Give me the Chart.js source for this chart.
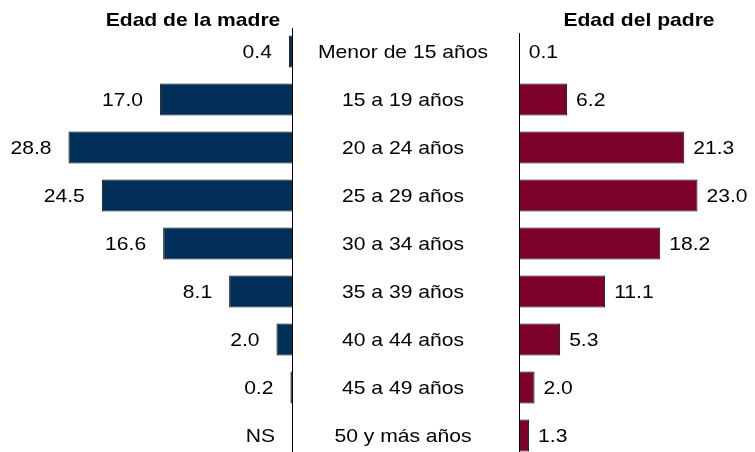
<!DOCTYPE html>
<html><head><meta charset="utf-8">
<script src="https://cdn.jsdelivr.net/npm/chart.js@4"></script>
<style>
html,body{margin:0;padding:0;overflow:hidden;background:#fff;width:755px;height:452px}
canvas{position:absolute;left:0;top:0}
</style></head><body>
<canvas id="madre" width="755" height="470"></canvas>
<canvas id="padre" width="755" height="470"></canvas>
<script>
const categories = ['Menor de 15 años','15 a 19 años','20 a 24 años','25 a 29 años','30 a 34 años','35 a 39 años','40 a 44 años','45 a 49 años','50 y más años'];
const madreValues = [0.4, 17.0, 28.8, 24.5, 16.6, 8.1, 2.0, 0.2, null];
const padreValues = [0.1, 6.2, 21.3, 23.0, 18.2, 11.1, 5.3, 2.0, 1.3];
const seriesTitles = ['Edad de la madre', 'Edad del padre'];
const missingLabel = 'NS';

const FONT = '"Liberation Sans", Arial, sans-serif';
const SX = 1.11; // horizontal text stretch as in the reference
const fmt = v => (v === null || v === undefined) ? missingLabel : v.toFixed(1);

function txt(ctx, s, x, y, align) {
  ctx.save();
  ctx.translate(x, y);
  ctx.scale(SX, 1);
  ctx.textAlign = align;
  ctx.fillText(s, 0, 0);
  ctx.restore();
}

function overlay(side) {
  return {
    id: 'overlay_' + side,
    afterDatasetsDraw(chart) {
      const ctx = chart.ctx, xs = chart.scales.x, ys = chart.scales.y;
      const vals = side === 'left' ? madreValues : padreValues;
      const x0 = xs.getPixelForValue(0);
      ctx.save();
      ctx.strokeStyle = '#000';
      ctx.lineWidth = 1;
      ctx.beginPath();
      ctx.moveTo(Math.round(x0) + 0.5, side === 'left' ? 28 : 33);
      ctx.lineTo(Math.round(x0) + 0.5, chart.height);
      ctx.stroke();
      ctx.fillStyle = '#000';
      ctx.font = '19px ' + FONT;
      ctx.textBaseline = 'middle';
      vals.forEach((v, i) => {
        const y = ys.getPixelForValue(i) + 1.5;
        const xe = xs.getPixelForValue(v === null ? 0 : v);
        if (side === 'left') txt(ctx, fmt(v), xe - 17, y, 'right');
        else txt(ctx, fmt(v), xe + 9, y, 'left');
      });
      if (side === 'right') {
        categories.forEach((c, i) => txt(ctx, c, 403, ys.getPixelForValue(i) + 1.5, 'center'));
      }
      ctx.font = 'bold 19px ' + FONT;
      txt(ctx, side === 'left' ? seriesTitles[0] : seriesTitles[1], side === 'left' ? 193 : 639, 21, 'center');
      ctx.restore();
    }
  };
}

function makeChart(id, side) {
  const left = side === 'left';
  return new Chart(document.getElementById(id), {
    type: 'bar',
    data: {
      labels: categories,
      datasets: [{
        data: left ? madreValues : padreValues,
        backgroundColor: left ? '#00305A' : '#7D002D',
        borderColor: '#111',
        borderWidth: 1,
        borderSkipped: 'start',
        categoryPercentage: 1,
        barPercentage: 0.667
      }]
    },
    options: {
      indexAxis: 'y',
      responsive: false,
      animation: false,
      layout: { padding: left
        ? { left: 12.6, right: 463, top: 27.5, bottom: 10.5 }
        : { left: 519, right: 3.2, top: 27.5, bottom: 10.5 } },
      plugins: { legend: { display: false }, tooltip: { enabled: false } },
      scales: {
        x: { display: false, min: 0, max: left ? 36 : 30, reverse: left },
        y: { display: false, offset: true }
      }
    },
    plugins: [overlay(side)]
  });
}
makeChart('madre', 'left');
makeChart('padre', 'right');
</script>
</body></html>
